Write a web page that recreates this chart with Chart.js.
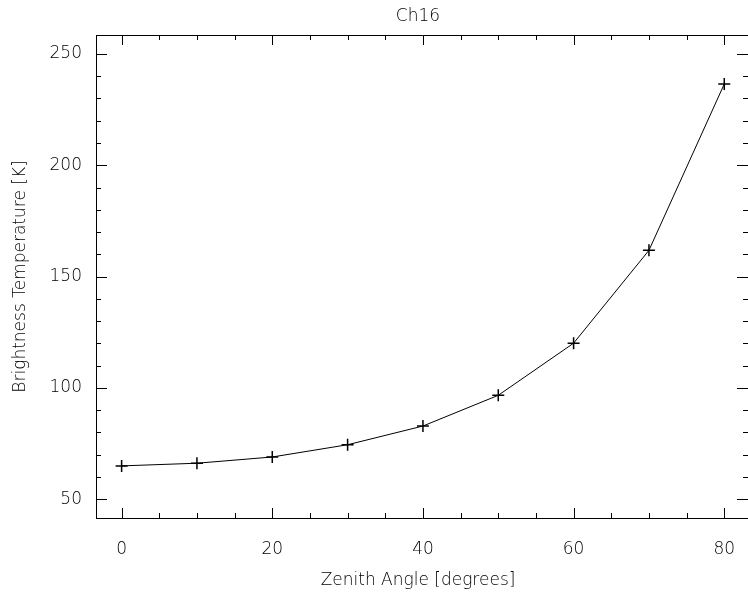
<!DOCTYPE html>
<html>
<head>
<meta charset="utf-8">
<script src="https://cdn.jsdelivr.net/npm/chart.js@4"></script>
<style>
  html, body { margin: 0; padding: 0; background: #fff; }
  #wrap { width: 748px; height: 603px; }
</style>
</head>
<body>
<div id="wrap"><canvas id="myChart" width="748" height="603"></canvas></div>
<script>
// Ch16 brightness temperature vs zenith angle
const zenithAngle = [0, 10, 20, 30, 40, 50, 60, 70, 80];
const brightTemp = [65.0, 66.2, 69.0, 74.5, 82.9, 96.7, 120.1, 161.8, 236.5];
const xMajor = [0, 20, 40, 60, 80];
const yMajor = [50, 100, 150, 200, 250];
const chartTitle = 'Ch16';
const xTitle = 'Zenith Angle [degrees]';

const FONT = "'DejaVu Sans', sans-serif";

// IDL-style frame with inward tick marks on all four sides + title texts
const idlFrame = {
    id: 'idlFrame',
    afterDraw(chart) {
        const ctx = chart.ctx;
        const a = chart.chartArea;
        const sx = chart.scales.x, sy = chart.scales.y;
        ctx.save();
        ctx.strokeStyle = '#000';
        ctx.lineWidth = 1;
        ctx.beginPath();
        ctx.moveTo(a.left + 0.5, a.top + 0.5);
        ctx.lineTo(a.right + 1, a.top + 0.5);
        ctx.moveTo(a.left + 0.5, a.top);
        ctx.lineTo(a.left + 0.5, a.bottom + 0.5);
        ctx.moveTo(a.left, a.bottom + 0.5);
        ctx.lineTo(a.right + 1, a.bottom + 0.5);

        for (let v = 0; v <= 80; v += 5) {
            const px = Math.round(sx.getPixelForValue(v)) + 0.5;
            const len = xMajor.includes(v) ? 10 : 5;
            ctx.moveTo(px, a.bottom);
            ctx.lineTo(px, a.bottom - len);
            ctx.moveTo(px, a.top);
            ctx.lineTo(px, a.top + len);
        }
        for (let v = 50; v <= 250; v += 10) {
            const py = Math.round(sy.getPixelForValue(v)) + 0.5;
            const len = yMajor.includes(v) ? 11 : 5;
            ctx.moveTo(a.left, py);
            ctx.lineTo(a.left + len, py);
            ctx.moveTo(a.right, py);
            ctx.lineTo(a.right - len, py);
        }
        ctx.stroke();

        ctx.fillStyle = '#000';
        ctx.font = '200 17px ' + FONT;
        ctx.textAlign = 'center';
        ctx.textBaseline = 'middle';
        ctx.fillText(chartTitle, 418, 17);
        ctx.fillText(xTitle, 418, 581);
        ctx.restore();
    }
};

const ctx = document.getElementById('myChart');
const myChart = new Chart(ctx, {
    type: 'line',
    data: {
        datasets: [{
            data: zenithAngle.map((x, i) => ({ x: x, y: brightTemp[i] })),
            borderColor: '#000',
            borderWidth: 1,
            pointStyle: 'cross',
            pointRadius: 6,
            pointBorderWidth: 1.5,
            pointBorderColor: '#000',
            tension: 0
        }]
    },
    options: {
        responsive: false,
        animation: false,
        layout: { autoPadding: false, padding: { left: 0, right: 0, top: 35, bottom: 0 } },
        plugins: {
            legend: { display: false },
            tooltip: { enabled: false },
            title: { display: false }
        },
        scales: {
            x: {
                type: 'linear',
                min: -3.4,
                max: 83.15,
                afterFit: s => { s.height = 85; s.paddingLeft = 0; s.paddingRight = 0; },
                afterBuildTicks: s => { s.ticks = xMajor.map(v => ({ value: v })); },
                grid: { display: false, drawTicks: false },
                border: { display: false },
                ticks: {
                    color: '#000',
                    padding: 21,
                    font: { family: FONT, size: 17, weight: 200 }
                }
            },
            y: {
                type: 'linear',
                min: 41.6,
                max: 258.5,
                afterFit: s => { s.width = 96; s.paddingTop = 0; s.paddingBottom = 0; },
                afterBuildTicks: s => { s.ticks = yMajor.map(v => ({ value: v })); },
                grid: { display: false, drawTicks: false },
                border: { display: false },
                ticks: {
                    color: '#000',
                    padding: 14,
                    font: { family: FONT, size: 17, weight: 200 }
                },
                title: {
                    display: true,
                    text: 'Brightness Temperature [K]',
                    color: '#000',
                    font: { family: FONT, size: 17, weight: 200, lineHeight: 1.2 },
                    padding: { top: 10, bottom: 0 }
                }
            }
        }
    },
    plugins: [idlFrame]
});
</script>
</body>
</html>
